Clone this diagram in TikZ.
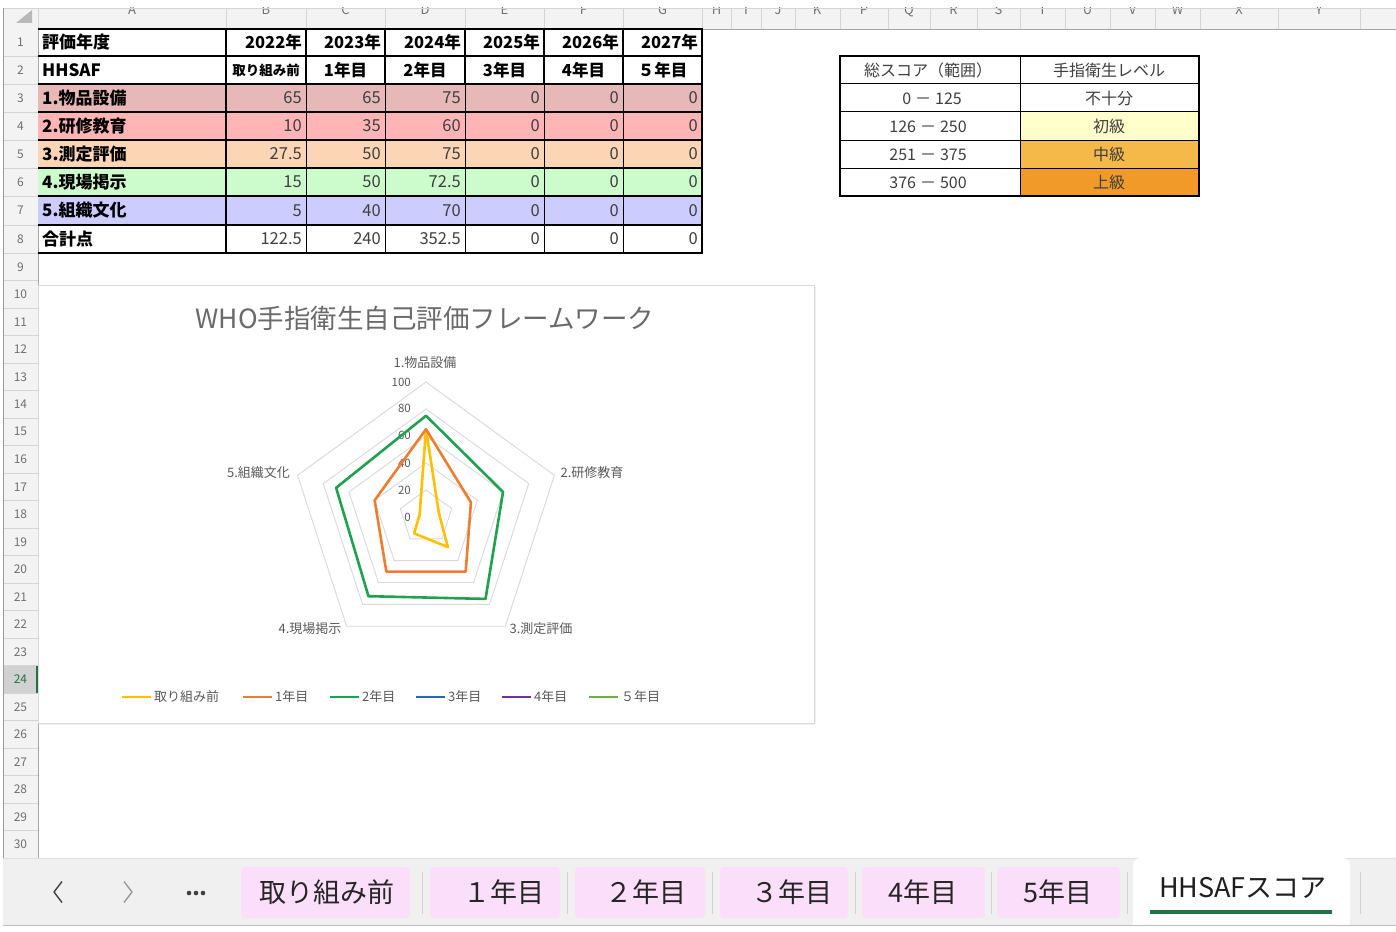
\documentclass[tikz,border=0pt]{standalone}
\usepackage{fontspec}
\setmainfont{Noto Sans CJK JP}
\newcommand\myfs[1]{\fontsize{#1}{#1}\selectfont}
\newcommand\rng[2]{#1\hspace{4pt}－\hspace{4pt}#2}
\definecolor{hdrfill}{HTML}{F3F3F3}
\definecolor{hdrline}{HTML}{D4D4D4}
\definecolor{hdrtxt}{HTML}{707070}
\definecolor{numgray}{HTML}{3F3F3F}
\definecolor{rowA}{HTML}{E6B8B7}
\definecolor{rowB}{HTML}{FFB5B5}
\definecolor{rowC}{HTML}{FCD5B4}
\definecolor{rowD}{HTML}{CCFCCC}
\definecolor{rowE}{HTML}{CCCCFF}
\definecolor{lvA}{HTML}{FFFFCC}
\definecolor{lvB}{HTML}{F5B94A}
\definecolor{lvC}{HTML}{F19A2A}
\definecolor{chtxt}{HTML}{595959}
\definecolor{chgrid}{HTML}{D9D9D9}
\definecolor{serY}{HTML}{FFC000}
\definecolor{serO}{HTML}{ED7D31}
\definecolor{serG}{HTML}{1FA24F}
\definecolor{serB}{HTML}{2468B0}
\definecolor{serP}{HTML}{7030A0}
\definecolor{serL}{HTML}{70AD47}
\definecolor{tabfill}{HTML}{FBDFFA}
\definecolor{barfill}{HTML}{F0F0F0}
\definecolor{xlgreen}{HTML}{217346}
\tikzset{
  colletter/.style={anchor=base, font=\myfs{13}, text=hdrtxt, inner sep=0pt},
  rowlbl/.style={font=\myfs{12}, text=hdrtxt, inner sep=0pt},
  celllab/.style={anchor=west, font=\bfseries\myfs{17}, inner sep=0pt},
  yearhdr/.style={anchor=east, font=\bfseries\myfs{16.5}, inner sep=0pt},
  termhdr/.style={font=\bfseries\myfs{16.5}, inner sep=0pt},
  cellnum/.style={anchor=east, font=\myfs{16.5}, text=numgray, inner sep=0pt},
  scoretxt/.style={font=\myfs{16}, text=numgray, inner sep=0pt},
  thickrule/.style={line width=2.2pt, black},
  thinrule/.style={line width=0.8pt, black},
  chlabel/.style={font=\myfs{13}, text=chtxt, inner sep=0pt},
  ticklbl/.style={anchor=east, font=\myfs{11.5}, text=chtxt, inner sep=0pt},
  gridpent/.style={draw=chgrid, line width=0.9pt},
  series/.style={line width=2.6pt, line join=round},
  legline/.style={line width=2.6pt},
  legtxt/.style={anchor=west, font=\myfs{13}, text=chtxt, inner sep=0pt},
  tabbox/.style={fill=tabfill, rounded corners=4pt},
  tabtxt/.style={font=\myfs{27}, text=black!85, inner sep=0pt},
  tabsep/.style={draw=black!18, line width=0.8pt},
}
\begin{document}
\begin{tikzpicture}[x=1pt,y=-1pt]
\useasboundingbox (0,0) rectangle (1396,931);
\fill[white] (0,0) rectangle (1396,931);

% ---------- column header ----------
\fill[hdrfill] (3,8) rectangle (1396,29);
\fill[black!28] (16,23) -- (32,23) -- (32,10) -- cycle;
\foreach \x in {38,226,306,385,465,544,623,702,731,761,795,840,888,930,977,1020,1065,1110,1155,1200,1278,1360}
  \draw[hdrline] (\x,8) -- (\x,29);
\begin{scope}
  \clip (3,8) rectangle (1396,29);
  \foreach \l/\x in {A/132,B/266,C/345.5,D/425,E/504.5,F/583.5,G/662.5,H/716.5,I/746,J/778,K/817,P/864,Q/909,R/953.5,S/998.5,T/1042.5,U/1087.5,V/1132.5,W/1177.5,X/1239,Y/1319}
    \node[colletter] (col\l) at (\x,15) {\l};
\end{scope}
\draw[hdrline] (3,8) -- (1396,8);
\draw[black!35] (3,29) -- (1396,29);

% ---------- row header ----------
\fill[hdrfill] (3,29) rectangle (38,858);
\fill[black!18] (3,{253+27.5*15}) rectangle (38,{253+27.5*16});
\foreach \i/\t/\b in {1/29/56,2/56/84,3/84/112,4/112/140,5/140/168,6/168/196,7/196/225,8/225/253}{
  \draw[hdrline] (3,\b) -- (38,\b);
  \node[rowlbl] (rn\i) at (20.5,{(\t+\b)/2}) {\i};
}
\foreach \i in {9,...,30}{
  \pgfmathsetmacro\t{253+27.5*(\i-9)}
  \ifnum\i=24\def\rc{xlgreen}\else\def\rc{hdrtxt}\fi
  \draw[hdrline] (3,\t+27.5) -- (38,\t+27.5);
  \node[rowlbl,text=\rc] (rn\i) at (20.5,\t+13.75) {\i};
}
\draw[xlgreen, line width=2.4pt] (36.8,{253+27.5*15}) -- (36.8,{253+27.5*16});
\draw[black!35] (38,29) -- (38,858);
\draw[black!40] (3,8) -- (3,925);

% ---------- main table ----------
\fill[rowA] (38,84) rectangle (702,112);
\fill[rowB] (38,112) rectangle (702,140);
\fill[rowC] (38,140) rectangle (702,168);
\fill[rowD] (38,168) rectangle (702,196);
\fill[rowE] (38,196) rectangle (702,225);
\foreach \x in {306,385,465,544,623}{
  \draw[line width=1.6pt] (\x,29) -- (\x,84);
  \draw[thinrule] (\x,84) -- (\x,253);
}
\foreach \y in {29,56,84,112,140,168,196,225,253}
  \draw[thickrule] (38,\y) -- (703,\y);
\draw[thickrule] (226,29) -- (226,253);
\draw[thickrule] (702,28) -- (702,254);

% row 1
\node[celllab] (a1) at (42,42.5) {評価年度};
\foreach \c/\r/\t in {b/306/2022年,c/385/2023年,d/465/2024年,e/544/2025年,f/623/2026年,g/702/2027年}
  \node[yearhdr] (\c1) at (\r-4,42.5) {\t};
% row 2
\node[celllab] (a2) at (42,70) {HHSAF};
\node[termhdr,font=\bfseries\myfs{13.5}] (b2) at (266,70.5) {取り組み前};
\foreach \c/\m/\t in {c/345.5/1年目,d/425/2年目,e/504.5/3年目,f/583.5/4年目,g/662.5/５年目}
  \node[termhdr] (\c2) at (\m,70) {\t};
% rows 3-8
\foreach \r/\y/\lab/\vb/\vc/\vd/\ve/\vf/\vg in {
  3/98/1.物品設備/65/65/75/0/0/0,
  4/126/2.研修教育/10/35/60/0/0/0,
  5/154/3.測定評価/27.5/50/75/0/0/0,
  6/182/4.現場掲示/15/50/72.5/0/0/0,
  7/210.5/5.組織文化/5/40/70/0/0/0,
  8/239/合計点/122.5/240/352.5/0/0/0}{
  \node[celllab] (a\r) at (42,\y) {\lab};
  \node[cellnum] (b\r) at (302,\y) {\vb};
  \node[cellnum] (c\r) at (381,\y) {\vc};
  \node[cellnum] (d\r) at (461,\y) {\vd};
  \node[cellnum] (e\r) at (540,\y) {\ve};
  \node[cellnum] (f\r) at (619,\y) {\vf};
  \node[cellnum] (g\r) at (698,\y) {\vg};
}

% ---------- score table ----------
\fill[lvA] (1020,112) rectangle (1199,140);
\fill[lvB] (1020,140) rectangle (1199,168);
\fill[lvC] (1020,168) rectangle (1199,196);
\foreach \y in {84,112,140,168} \draw[line width=1pt] (840,\y) -- (1199,\y);
\draw[line width=1pt] (1020,56) -- (1020,196);
\draw[line width=2.5pt] (840,56) rectangle (1199,196);
\node[scoretxt] (s1) at (928,70) {総スコア（範囲）};
\node[scoretxt] (l1) at (1109,70) {手指衛生レベル};
\node[scoretxt] (s2) at (932,98.5) {\rng{0}{125}};
\node[scoretxt] (l2) at (1109,98) {不十分};
\node[scoretxt] (s3) at (928,126.5) {\rng{126}{250}};
\node[scoretxt] (l3) at (1109,126) {初級};
\node[scoretxt] (s4) at (928,154.5) {\rng{251}{375}};
\node[scoretxt] (l4) at (1109,154) {中級};
\node[scoretxt] (s5) at (928,182.5) {\rng{376}{500}};
\node[scoretxt] (l5) at (1109,182) {上級};

% ---------- chart ----------
\fill[black!6] (40,287) rectangle (816,725);
\draw[chgrid, fill=white] (38,285) rectangle (814,723);
\node[font=\myfs{26.5}, text=chtxt!90, inner sep=0pt] (title) at (425,318) {WHO手指衛生自己評価フレームワーク};

\foreach \k in {1,...,5}{
  \foreach \j in {0,...,4}
    \coordinate (p\k-\j) at ({426+27*\k*sin(72*\j)},{517-27*\k*cos(72*\j)});
  \draw[gridpent] (p\k-0) -- (p\k-1) -- (p\k-2) -- (p\k-3) -- (p\k-4) -- cycle;
}
\foreach \v/\y in {100/382,80/408.5,60/435.5,40/463,20/490,0/517}
  \node[ticklbl] (tk\v) at (411,\y) {\v};

\node[chlabel] (cat1) at (425,362.5) {1.物品設備};
\node[chlabel] (cat2) at (592,472.5) {2.研修教育};
\node[chlabel] (cat3) at (541,628.5) {3.測定評価};
\node[chlabel] (cat4) at (310,628.5) {4.現場掲示};
\node[chlabel] (cat5) at (258.5,472.5) {5.組織文化};

\foreach \s/\vals in {y/{65,10,27.5,15,5}, o/{65,35,50,50,40}, g/{75,60,75,72.5,70}}{
  \foreach \v [count=\j from 0] in \vals
    \coordinate (\s\j) at ({426+1.35*\v*sin(72*\j)},{517-1.35*\v*cos(72*\j)});
}
\draw[series, serY] (y0) -- (y1) -- (y2) -- (y3) -- (y4) -- cycle;
\draw[series, serO] (o0) -- (o1) -- (o2) -- (o3) -- (o4) -- cycle;
\draw[series, serG] (g0) -- (g1) -- (g2) -- (g3) -- (g4) -- cycle;

% legend
\foreach \c/\x/\t [count=\n] in {serY/122/取り組み前, serO/243/1年目, serG/330/2年目, serB/416/3年目, serP/502/4年目, serL/589/５年目}{
  \coordinate (lg\n a) at (\x,697);
  \coordinate (lg\n b) at (\x+29,697);
  \draw[legline, \c] (lg\n a) -- (lg\n b);
  \node[legtxt] (lt\n) at (\x+32,697) {\t};
}

% ---------- sheet tab bar ----------
\fill[barfill] (3,858) rectangle (1396,925);
\draw[black!12] (3,858) -- (1396,858);
\fill[white, rounded corners=7pt] (1133,926) -- (1133,858) -- (1350,858) -- (1350,926);
\draw[black!25] (3,925) -- (1396,925);

\coordinate (lt1) at (62,881.5); \coordinate (lt2) at (54,892); \coordinate (lt3) at (62,902.5);
\draw[black!75, line width=1.4pt, line join=round] (lt1) -- (lt2) -- (lt3);
\coordinate (rt1) at (124,881.5); \coordinate (rt2) at (132,892); \coordinate (rt3) at (124,902.5);
\draw[black!40, line width=1.4pt, line join=round] (rt1) -- (rt2) -- (rt3);
\foreach \x [count=\n] in {189,196,203}
  \fill[black!75] (\x,893) circle[radius=2.3] coordinate (dot\n);

\fill[tabbox] (241,867) rectangle (410,918);
\fill[tabbox] (430,867) rectangle (560,918);
\fill[tabbox] (575,867) rectangle (705,918);
\fill[tabbox] (720,867) rectangle (848,918);
\fill[tabbox] (862,867) rectangle (985,918);
\fill[tabbox] (997,867) rectangle (1120,918);
\foreach \x in {422,567,712,855,991,1127,1360}
  \draw[tabsep] (\x,872) -- (\x,914);

\node[tabtxt] (tab0) at (327,892) {取り組み前};
\node[tabtxt] (tab1) at (504,892) {１年目};
\node[tabtxt] (tab2) at (646,892) {２年目};
\node[tabtxt] (tab3) at (792,892) {３年目};
\node[tabtxt] (tab4) at (923,892) {4年目};
\node[tabtxt] (tab5) at (1058,892) {5年目};
\node[tabtxt, text=black!88] (tabh) at (1243,888) {HHSAFスコア};
\draw[xlgreen, line width=4pt] (1150,911.5) -- (1332,911.5);
\end{tikzpicture}
\end{document}
